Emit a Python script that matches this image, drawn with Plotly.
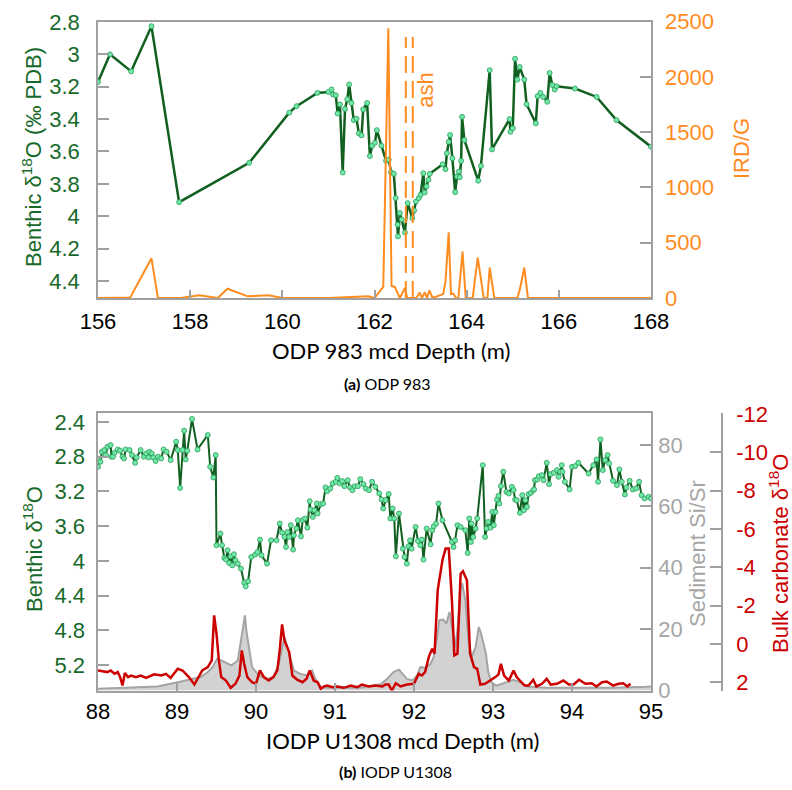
import plotly.graph_objects as go

# ---------------- Panel (a) ODP 983 ----------------
depth_a = [156.00, 156.26, 156.72, 157.16, 157.76, 159.28, 160.15, 160.31, 160.76, 161.00,
           161.07, 161.10, 161.16, 161.20, 161.25, 161.31, 161.36, 161.41, 161.45, 161.50,
           161.55, 161.61, 161.66, 161.72, 161.755, 161.84, 161.90, 161.95, 162.01, 162.05,
           162.15, 162.25, 162.31, 162.36, 162.42, 162.46, 162.50, 162.51, 162.55, 162.59,
           162.66, 162.72, 162.82, 162.86, 162.90, 162.96, 163.00, 163.06, 163.09, 163.13,
           163.17, 163.20, 163.48, 163.54, 163.57, 163.61, 163.64, 163.69, 163.75, 163.79,
           163.83, 163.85, 163.88, 163.90, 163.95, 164.25, 164.31, 164.50, 164.55, 164.93,
           164.95, 165.00, 165.05, 165.10, 165.15, 165.25, 165.30, 165.50, 165.54, 165.60,
           165.66, 165.75, 165.80, 165.86, 165.91, 165.95, 166.35, 166.82, 167.25, 168.00]
benthic_a = [3.17, 3.00, 3.105, 2.826, 3.913, 3.67, 3.36, 3.32, 3.238, 3.232,
             3.217, 3.248, 3.252, 3.365, 3.31, 3.73, 3.337, 3.277, 3.186, 3.30,
             3.406, 3.398, 3.488, 3.50, 3.34, 3.30, 3.628, 3.564, 3.546, 3.468,
             3.564, 3.657, 3.65, 3.73, 3.738, 3.888, 4.052, 4.124, 3.98, 4.02,
             4.10, 3.919, 4.011, 3.964, 3.909, 3.888, 3.868, 3.734, 3.853, 3.816,
             3.775, 3.738, 3.679, 3.709, 3.611, 3.54, 3.498, 3.642, 3.851, 3.755,
             3.724, 3.759, 3.658, 3.386, 3.529, 3.78, 3.689, 3.098, 3.587, 3.40,
             3.478, 3.457, 3.027, 3.156, 3.078, 3.156, 3.308, 3.426, 3.258, 3.238,
             3.263, 3.293, 3.115, 3.19, 3.217, 3.197, 3.211, 3.263, 3.406, 3.57]

depth_ird = [156.0, 156.7, 157.16, 157.30, 157.8, 158.2, 158.6, 158.81, 159.25, 159.7,
             160.0, 161.0, 161.86, 162.0, 162.19, 162.30, 162.37, 162.44, 162.55, 162.66,
             162.71, 162.91, 162.98, 163.03, 163.09, 163.14, 163.19, 163.26, 163.49, 163.54,
             163.61, 163.66, 163.71, 163.77, 163.82, 163.91, 163.98, 164.13, 164.24, 164.37,
             164.45, 164.50, 164.60, 165.10, 165.15, 165.25, 165.33, 168.0]
ird = [0, 5, 359, 0, 0, 25, 0, 84, 15, 25,
       0, 0, 15, 0, 100, 2438, 108, 100, 0, 90,
       0, 0, 50, 0, 50, 0, 70, 0, 35, 145,
       594, 35, 40, 0, 0, 419, 0, 0, 365, 0,
       0, 274, 0, 0, 70, 274, 0, 0]

ash_depths = [162.68, 162.83]
ash_top = 2360

# ---------------- Panel (b) IODP U1308 ----------------
depth_b = [88.00, 88.01, 88.03, 88.05, 88.08, 88.10, 88.12, 88.16, 88.17, 88.19,
           88.21, 88.25, 88.28, 88.31, 88.33, 88.35, 88.40, 88.43, 88.47, 88.49,
           88.54, 88.58, 88.61, 88.64, 88.65, 88.68, 88.70, 88.73, 88.76, 88.80,
           88.83, 88.87, 88.92, 88.99, 89.01, 89.04, 89.07, 89.09, 89.11, 89.13,
           89.19, 89.26, 89.39, 89.42, 89.46, 89.49, 89.50, 89.55, 89.57, 89.60,
           89.62, 89.64, 89.66, 89.68, 89.70, 89.72, 89.74, 89.77, 89.81, 89.85,
           89.87, 89.90, 89.94, 89.99, 90.02, 90.05, 90.07, 90.14, 90.19, 90.26,
           90.30, 90.33, 90.36, 90.38, 90.40, 90.42, 90.44, 90.47, 90.48, 90.51,
           90.53, 90.57, 90.59, 90.62, 90.65, 90.68, 90.69, 90.72, 90.74, 90.77,
           90.78, 90.82, 90.85, 90.88, 90.90, 90.94, 90.97, 91.01, 91.03, 91.06,
           91.09, 91.12, 91.16, 91.19, 91.22, 91.25, 91.29, 91.32, 91.36, 91.39,
           91.43, 91.47, 91.51, 91.56, 91.59, 91.61, 91.64, 91.68, 91.70, 91.73,
           91.75, 91.77, 91.81, 91.86, 91.88, 91.91, 91.93, 91.95, 91.97, 92.02,
           92.05, 92.08, 92.10, 92.12, 92.16, 92.21, 92.23, 92.25, 92.28, 92.31,
           92.36, 92.48, 92.50, 92.52, 92.55, 92.59, 92.65, 92.68, 92.70, 92.72,
           92.73, 92.75, 92.78, 92.80, 92.87, 92.90, 92.92, 92.94, 92.97, 92.99,
           93.01, 93.03, 93.05, 93.07, 93.08, 93.10, 93.13, 93.17, 93.20, 93.24,
           93.26, 93.28, 93.30, 93.34, 93.37, 93.39, 93.41, 93.43, 93.45, 93.48,
           93.51, 93.52, 93.53, 93.56, 93.58, 93.62, 93.64, 93.68, 93.71, 93.73,
           93.77, 93.81, 93.83, 93.85, 93.87, 93.88, 93.91, 93.97, 94.00, 94.04,
           94.08, 94.21, 94.27, 94.31, 94.33, 94.36, 94.39, 94.42, 94.45, 94.47,
           94.52, 94.57, 94.60, 94.63, 94.67, 94.69, 94.73, 94.77, 94.81, 94.85,
           94.88, 94.92, 94.97, 95.00]
benthic_b = [2.916, 2.839, 2.858, 2.743, 2.723, 2.781, 2.685, 2.666, 2.80, 2.80,
             2.754, 2.716, 2.731, 2.80, 2.819, 2.716, 2.723, 2.781, 2.87, 2.808,
             2.723, 2.80, 2.762, 2.808, 2.743, 2.762, 2.808, 2.85, 2.80, 2.819,
             2.716, 2.743, 2.839, 2.627, 2.723, 3.159, 2.723, 2.50, 2.831, 2.731,
             2.365, 2.716, 2.55, 2.916, 3.039, 2.781, 3.82, 3.685, 3.82, 3.967,
             3.985, 3.878, 4.025, 3.947, 4.051, 3.924, 3.994, 4.032, 4.09, 4.251,
             4.294, 4.236, 3.955, 3.928, 3.898, 3.755, 3.936, 4.032, 3.763, 3.763,
             3.57, 3.674, 3.724, 3.84, 3.667, 3.724, 3.589, 3.87, 3.705, 3.628,
             3.532, 3.717, 3.532, 3.512, 3.617, 3.312, 3.408, 3.493, 3.416, 3.339,
             3.454, 3.347, 3.339, 3.154, 3.197, 3.166, 3.108, 3.089, 3.043, 3.108,
             3.081, 3.139, 3.07, 3.154, 3.185, 3.139, 3.139, 3.058, 3.116, 3.166,
             3.185, 3.089, 3.147, 3.223, 3.293, 3.397, 3.30, 3.23, 3.512, 3.397,
             3.512, 3.947, 3.454, 3.859, 3.955, 4.032, 3.832, 3.763, 3.859, 3.609,
             3.771, 3.82, 3.755, 3.985, 3.628, 3.809, 3.647, 3.601, 3.57, 3.339,
             3.532, 3.782, 3.84, 3.763, 3.589, 3.609, 3.647, 3.909, 3.512, 3.782,
             3.57, 3.724, 3.628, 3.512, 2.897, 3.724, 3.628, 3.551, 3.616, 3.436,
             3.589, 3.436, 3.293, 3.251, 3.339, 3.139, 2.973, 3.205, 3.224, 3.147,
             3.185, 3.293, 3.30, 3.447, 3.243, 3.416, 3.30, 3.378, 3.231, 3.216,
             3.185, 3.177, 3.07, 3.062, 3.024, 3.012, 3.07, 2.87, 3.116, 3.00,
             2.985, 2.954, 3.031, 2.973, 2.897, 2.973, 3.089, 3.177, 2.916, 2.908,
             2.87, 2.993, 2.897, 2.831, 3.089, 2.60, 2.954, 2.839, 2.781, 2.877,
             3.078, 3.127, 2.946, 3.089, 3.235, 3.154, 3.078, 3.177, 3.166, 3.089,
             3.243, 3.281, 3.262, 3.281]

depth_bulk = [88.00, 88.06, 88.12, 88.16, 88.21, 88.25, 88.28, 88.31, 88.34, 88.38,
              88.42, 88.48, 88.54, 88.61, 88.65, 88.71, 88.80, 88.86, 88.92, 89.01,
              89.07, 89.15, 89.22, 89.27, 89.32, 89.39, 89.44, 89.47, 89.50, 89.53,
              89.56, 89.62, 89.68, 89.74, 89.79, 89.82, 89.85, 89.89, 89.95, 90.00,
              90.05, 90.10, 90.16, 90.22, 90.27, 90.30, 90.33, 90.36, 90.42, 90.46,
              90.52, 90.59, 90.64, 90.68, 90.73, 90.78, 90.82, 90.86, 90.90, 90.97,
              91.03, 91.11, 91.20, 91.28, 91.34, 91.43, 91.51, 91.60, 91.64, 91.68,
              91.72, 91.77, 91.83, 91.91, 92.00, 92.06, 92.10, 92.14, 92.19, 92.23,
              92.26, 92.30, 92.36, 92.40, 92.44, 92.48, 92.51, 92.55, 92.59, 92.62,
              92.67, 92.71, 92.76, 92.80, 92.84, 92.90, 92.97, 93.03, 93.07, 93.10,
              93.14, 93.20, 93.26, 93.30, 93.34, 93.40, 93.45, 93.51, 93.55, 93.62,
              93.68, 93.73, 93.81, 93.89, 93.96, 94.02, 94.09, 94.17, 94.25, 94.31,
              94.38, 94.44, 94.52, 94.59, 94.65, 94.70, 94.74]
bulk_d18o = [1.375, 1.41, 1.46, 1.375, 1.55, 1.46, 1.72, 2.16, 1.51, 1.72,
             1.64, 1.72, 1.64, 1.76, 1.69, 1.58, 1.64, 1.55, 1.76, 1.29,
             1.375, 1.72, 2.11, 1.72, 1.375, 1.20, 0.85, -1.50, -0.54, 0.85,
             1.72, 1.90, 2.28, 2.07, 1.64, 0.33, 1.03, 1.72, 1.99, 2.07,
             1.375, 1.72, 1.90, 1.72, 1.375, 0.33, -1.03, -0.19, 0.42, 1.64,
             1.86, 1.99, 1.81, 1.375, 1.90, 1.99, 2.33, 2.21, 2.16, 2.25,
             2.21, 2.28, 2.16, 2.25, 2.11, 2.21, 2.16, 2.21, 2.11, 2.11,
             2.42, 2.04, 2.21, 2.11, 2.07, 1.55, 1.64, 1.46, 0.64, 0.24,
             0.50, -2.80, -4.37, -4.98, -4.98, -2.28, 0.59, 0.50, -3.67, -3.80,
             -3.33, 0.50, 1.20, 1.29, 2.11, 2.07, 1.90, 1.72, 1.58, 1.03,
             1.64, 1.90, 1.375, 1.72, 1.90, 2.16, 2.16, 1.86, 2.21, 2.07,
             1.81, 2.11, 2.07, 1.90, 2.11, 2.11, 1.86, 2.07, 2.04, 2.21,
             1.99, 1.95, 2.16, 2.07, 2.04, 2.21, 2.07]

depth_sisr = [88.00, 88.38, 88.75, 89.01, 89.30, 89.39, 89.45, 89.51, 89.59, 89.65,
              89.69, 89.77, 89.81, 89.84, 89.86, 89.88, 89.91, 89.95, 90.02, 90.08,
              90.14, 90.22, 90.29, 90.33, 90.36, 90.39, 90.44, 90.48, 90.56, 90.65,
              90.71, 90.75, 90.82, 90.90, 91.32, 91.58, 91.66, 91.74, 91.81, 91.85,
              91.91, 91.98, 92.04, 92.08, 92.15, 92.21, 92.25, 92.29, 92.32, 92.37,
              92.41, 92.45, 92.49, 92.52, 92.55, 92.59, 92.61, 92.65, 92.69, 92.73,
              92.78, 92.82, 92.85, 92.88, 92.91, 92.94, 92.98, 93.04, 93.18, 93.26,
              93.34, 93.43, 93.68, 94.10, 94.52, 94.94, 95.00]
sisr = [0.55, 0.9, 1.3, 2.7, 4.4, 6.0, 7.6, 10.4, 9.3, 8.7,
        8.2, 9.8, 16.9, 21.8, 24.5, 19.1, 14.2, 7.6, 5.4, 4.4,
        3.8, 4.4, 8.7, 14.2, 17.4, 14.7, 9.8, 6.5, 5.4, 4.9,
        6.5, 3.8, 1.1, 0.9, 0.9, 2.0, 3.8, 6.0, 6.8, 5.7,
        3.8, 3.3, 4.9, 7.6, 7.4, 8.7, 10.9, 16.9, 22.9, 23.1,
        21.8, 25.6, 19.6, 14.2, 19.6, 32.7, 35.0, 29.4, 16.3, 10.9,
        14.2, 20.7, 18.5, 15.3, 12.0, 6.0, 2.7, 1.6, 2.7, 3.5,
        2.7, 1.3, 0.9, 0.9, 0.9, 1.2, 1.3]

ticks_a_left = [2.8, 3.0, 3.2, 3.4, 3.6, 3.8, 4.0, 4.2, 4.4]
ticks_a_left_text = ["2.8", "3", "3.2", "3.4", "3.6", "3.8", "4", "4.2", "4.4"]
ticks_ird = [0, 500, 1000, 1500, 2000, 2500]
ticks_a_x = [156, 158, 160, 162, 164, 166, 168]
ticks_b_left = [2.4, 2.8, 3.2, 3.6, 4.0, 4.4, 4.8, 5.2]
ticks_b_left_text = ["2.4", "2.8", "3.2", "3.6", "4", "4.4", "4.8", "5.2"]
ticks_sisr = [0, 20, 40, 60, 80]
ticks_bulk = [-12, -10, -8, -6, -4, -2, 0, 2]
ticks_bulk_text = ["-12", "-10", "-8", "-6", "-4", "-2", "0", "2"]
ticks_b_x = [88, 89, 90, 91, 92, 93, 94, 95]

# ---------------- styling ----------------
W, H = 792, 790
GREEN_T = "#17692a"
GREEN_L = "#11601f"
MARK_F = "#6fe8a8"
MARK_L = "#2f9c5c"
ORANGE = "#ff8c1f"
RED = "#cc0000"
GRAY_T = "#a6a6a6"
AX = "#a0a0a0"
TF = "Liberation Sans"
CF = "Lato"

def px(x):
    return x / W

def py(y):
    return 1 - y / H

xdom = [px(98), px(651)]
ydom_a = [py(298), py(21.5)]
ydom_b = [py(690.5), py(413)]

fig = go.Figure()

marker = dict(size=5, color=MARK_F, line=dict(color=MARK_L, width=0.8))

fig.add_trace(go.Scatter(x=depth_a, y=benthic_a, xaxis="x", yaxis="y", mode="lines+markers",
                         line=dict(color=GREEN_L, width=2.5), marker=marker, showlegend=False))
fig.add_trace(go.Scatter(x=depth_ird, y=ird, xaxis="x", yaxis="y2", mode="lines",
                         line=dict(color=ORANGE, width=2), showlegend=False))
for d in ash_depths:
    fig.add_trace(go.Scatter(x=[d, d], y=[0, ash_top], xaxis="x", yaxis="y2", mode="lines",
                             line=dict(color=ORANGE, width=2, dash="17px,8px"), showlegend=False))

fig.add_trace(go.Scatter(x=depth_sisr, y=sisr, xaxis="x2", yaxis="y3", mode="lines",
                         fill="tozeroy", fillcolor="rgba(205,205,205,0.9)",
                         line=dict(color="#a4a4a4", width=2), showlegend=False))
fig.add_trace(go.Scatter(x=depth_bulk, y=bulk_d18o, xaxis="x2", yaxis="y4", mode="lines",
                         line=dict(color=RED, width=2.5), showlegend=False))
fig.add_trace(go.Scatter(x=depth_b, y=benthic_b, xaxis="x2", yaxis="y5", mode="lines+markers",
                         line=dict(color=GREEN_L, width=2), marker=marker, showlegend=False))

common = dict(showgrid=False, zeroline=False, ticks="inside", tickcolor=AX, tickwidth=1.5,
              automargin=False)

fig.update_layout(
    width=W, height=H, margin=dict(l=0, r=0, t=0, b=0, pad=0, autoexpand=False),
    paper_bgcolor="white", plot_bgcolor="rgba(0,0,0,0)",
    xaxis=dict(domain=xdom, range=[156, 168], anchor="y", tickvals=ticks_a_x, ticklen=8,
               showline=True, linecolor=AX, linewidth=1.5, mirror=True,
               tickfont=dict(family=TF, size=22, color="black"), ticklabelstandoff=3, **common),
    yaxis=dict(domain=ydom_a, range=[4.505, 2.797], anchor="x", tickvals=ticks_a_left,
               ticktext=ticks_a_left_text, ticklen=11, showline=True, linecolor=AX, linewidth=1.5,
               mirror=True, tickfont=dict(family=TF, size=22, color=GREEN_T),
               ticklabelstandoff=12, **common),
    yaxis2=dict(overlaying="y", side="right", anchor="x", range=[0, 2500], tickvals=ticks_ird,
                ticklen=11, showline=False, tickfont=dict(family=TF, size=22, color=ORANGE),
                ticklabelstandoff=13, **common),
    xaxis2=dict(domain=xdom, range=[88, 95], anchor="y3", tickvals=ticks_b_x, ticklen=8,
                showline=True, linecolor=AX, linewidth=1.5, mirror=True,
                tickfont=dict(family=TF, size=22, color="black"), ticklabelstandoff=0, **common),
    yaxis3=dict(domain=ydom_b, range=[0, 90.4], anchor="x2", side="right", tickvals=ticks_sisr,
                ticklen=11, showline=True, linecolor=AX, linewidth=1.5, mirror=True,
                tickfont=dict(family=TF, size=22, color=GRAY_T), ticklabelstandoff=1, **common),
    yaxis4=dict(overlaying="y3", anchor="free", position=px(722), side="right",
                range=[2.42, -12.05], tickvals=ticks_bulk, ticktext=ticks_bulk_text, ticklen=11,
                showline=True, linecolor=AX, linewidth=1.5,
                tickfont=dict(family=TF, size=22, color=RED), ticklabelstandoff=9, **common),
    yaxis5=dict(overlaying="y3", anchor="x2", side="left", range=[5.494, 2.296],
                tickvals=ticks_b_left, ticktext=ticks_b_left_text, ticklen=11, showline=False,
                tickfont=dict(family=TF, size=22, color=GREEN_T), ticklabelstandoff=12, **common),
)

ann = []
def add_text(text, x, y, color, size, family=TF, angle=0):
    ann.append(dict(text=text, x=px(x), y=py(y), xref="paper", yref="paper", showarrow=False,
                    xanchor="center", yanchor="middle", textangle=angle,
                    font=dict(family=family, size=size, color=color)))

add_text("Benthic δ<sup>18</sup>O (‰ PDB)", 32, 157, GREEN_T, 22, angle=-90)
add_text("IRD/G", 741, 149, ORANGE, 22, angle=-90)
add_text("ODP 983 mcd Depth (m)", 391, 351, "black", 22, family=CF)
add_text("<b>(a)</b> ODP 983", 387, 384, "black", 16, family=CF)
add_text("Benthic δ<sup>18</sup>O", 33, 549, GREEN_T, 22, angle=-90)
add_text("Sediment Si/Sr", 697, 554, GRAY_T, 22, angle=-90)
add_text("Bulk carbonate δ<sup>18</sup>O", 779, 554, RED, 22, angle=-90)
add_text("IODP U1308 mcd Depth (m)", 402, 740, "black", 22, family=CF)
add_text("<b>(b)</b> IODP U1308", 395, 771, "black", 16, family=CF)

ann.append(dict(text="ash", x=163.09, y=1880, xref="x", yref="y2", showarrow=False,
                xanchor="center", yanchor="middle", textangle=-90,
                font=dict(family=TF, size=22, color=ORANGE)))
fig.update_layout(annotations=ann)

fig.write_html("out.html")
